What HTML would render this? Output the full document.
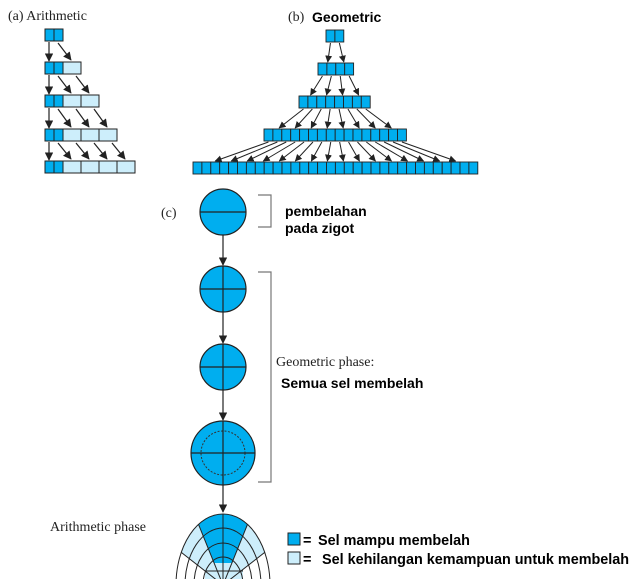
<!DOCTYPE html>
<html><head><meta charset="utf-8"><style>
html,body{margin:0;padding:0;background:#fff;overflow:hidden;width:638px;height:579px;}
svg{display:block;}
.serif{font-family:"Liberation Serif",serif;fill:#222;}
.sans{font-family:"Liberation Sans",sans-serif;font-weight:bold;fill:#000;}
</style></head><body>
<svg id="s" width="638" height="579" viewBox="0 0 638 579" xmlns="http://www.w3.org/2000/svg">
<defs>
<marker id="ah" viewBox="0 0 10 10" refX="9" refY="5" markerWidth="7" markerHeight="7" orient="auto-start-reverse"><path d="M0,0 L10,5 L0,10 z" fill="#222"/></marker>
<clipPath id="b1"><path clip-rule="evenodd" d="M176,585 A47,71 0 0 1 270,585 Z M185,585 A38,57 0 0 0 261,585 Z"/></clipPath>
<clipPath id="b2"><path clip-rule="evenodd" d="M185,585 A38,57 0 0 1 261,585 Z M194,585 A29,42 0 0 0 252,585 Z"/></clipPath>
<clipPath id="b3"><path clip-rule="evenodd" d="M194,585 A29,42 0 0 1 252,585 Z M203,585 A20,28 0 0 0 243,585 Z"/></clipPath>
<clipPath id="ball"><path clip-rule="evenodd" d="M176,585 A47,71 0 0 1 270,585 Z M203,585 A20,28 0 0 0 243,585 Z"/></clipPath>
<clipPath id="frame"><rect x="0" y="0" width="638" height="579"/></clipPath>
</defs>
<text x="8" y="20" class="serif" font-size="14">(a)  Arithmetic</text>
<text x="288" y="21" class="serif" font-size="14">(b)</text>
<text x="312" y="22" class="sans" font-size="14">Geometric</text>
<text x="161" y="217" class="serif" font-size="14">(c)</text>
<text x="285" y="216" class="sans" font-size="14">pembelahan</text>
<text x="285" y="233" class="sans" font-size="14">pada zigot</text>
<text x="276" y="366" class="serif" font-size="14">Geometric phase:</text>
<text x="281" y="388" class="sans" font-size="14">Semua sel membelah</text>
<text x="50" y="531" class="serif" font-size="14">Arithmetic phase</text>
<g id="g"></g>
<path d="M258,195 H271 V227 H258" fill="none" stroke="#777" stroke-width="1.2"/>
<path d="M258,272 H271 V482 H258" fill="none" stroke="#777" stroke-width="1.2"/>
<g stroke="#222" stroke-width="1.2" fill="#00aeef">
<circle cx="223" cy="212" r="23"/>
<circle cx="223" cy="289" r="23"/>
<circle cx="223" cy="367" r="23"/>
<circle cx="223" cy="453" r="32"/>
</g>
<circle cx="223" cy="453" r="22" fill="none" stroke="#333" stroke-dasharray="2,1.5"/>
<g stroke="#222" stroke-width="1.2">
<line x1="200" y1="212" x2="246" y2="212"/>
<line x1="200" y1="289" x2="246" y2="289"/><line x1="223" y1="266" x2="223" y2="312"/>
<line x1="200" y1="367" x2="246" y2="367"/><line x1="223" y1="344" x2="223" y2="390"/>
<line x1="191" y1="453" x2="255" y2="453"/><line x1="223" y1="421" x2="223" y2="485"/>
<line x1="223" y1="235" x2="223" y2="265" marker-end="url(#ah)"/>
<line x1="223" y1="312" x2="223" y2="343" marker-end="url(#ah)"/>
<line x1="223" y1="390" x2="223" y2="420" marker-end="url(#ah)"/>
<line x1="223" y1="485" x2="223" y2="512" marker-end="url(#ah)"/>
</g>
<g clip-path="url(#frame)"><g id="arch"></g></g>
<rect x="288" y="533" width="12" height="12" fill="#00aeef" stroke="#222"/>
<rect x="288" y="552" width="12" height="12" fill="#cdeefb" stroke="#222"/>
<text x="303" y="545" class="sans" font-size="14.4">=</text>
<text x="318" y="545" class="sans" font-size="14.4">Sel mampu membelah</text>
<text x="303" y="564" class="sans" font-size="14.4">=</text>
<text x="322" y="564" class="sans" font-size="14.4">Sel kehilangan kemampuan untuk membelah</text>
</svg>
<script>
var NS="http://www.w3.org/2000/svg",g=document.getElementById("g");
function el(t,a,p){var e=document.createElementNS(NS,t);for(var k in a)e.setAttribute(k,a[k]);(p||g).appendChild(e);return e;}
var D="#00aeef",L="#cdeefb";
var ay=[29,62,95,129,161];
for(var r=0;r<5;r++){var x=45;
 for(var c=0;c<r+2;c++){var w=c<2?9:18;el("rect",{x:x,y:ay[r],width:w,height:12,fill:c<2?D:L,stroke:"#222","stroke-width":1});x+=w;}
 if(r<4){el("line",{x1:49,y1:ay[r]+13,x2:49,y2:ay[r+1]-1,stroke:"#222","stroke-width":1.2,"marker-end":"url(#ah)"});
  for(var c=0;c<=r;c++){var sx=58+c*18;el("line",{x1:sx,y1:ay[r]+14,x2:sx+13,y2:ay[r+1]-2,stroke:"#222","stroke-width":1.2,"marker-end":"url(#ah)"});}}
}
var rows=[[326,30,2],[318,63,4],[299,96,8],[264,129,16],[193,162,32]];
var cw=8.9;
for(var r=0;r<5;r++){var R=rows[r];for(var c=0;c<R[2];c++)el("rect",{x:R[0]+c*cw,y:R[1],width:cw,height:12,fill:D,stroke:"#222","stroke-width":0.9});
 if(r<4){var N=rows[r+1],cx0=R[0]+R[2]*cw/2,cx1=N[0]+N[2]*cw/2,sc=N[2]/R[2]*0.9;
  for(var c=0;c<R[2];c++){var sx=R[0]+(c+0.5)*cw,tx=cx1+(sx-cx0)*sc;
   el("line",{x1:sx,y1:R[1]+13,x2:tx,y2:N[1]-1,stroke:"#222","stroke-width":1,"marker-end":"url(#ah)"});}}
}
var A=document.getElementById("arch");
function pt(a,R){return (223+R*Math.sin(a*Math.PI/180))+","+(585-R*Math.cos(a*Math.PI/180));}
function wedge(a1,a2,fill,clip){el("path",{d:"M223,585 L"+pt(a1,200)+" L"+pt(a2,200)+"Z",fill:fill,"clip-path":"url(#"+clip+")"},A);}
["b1","b2"].forEach(function(b){wedge(-22,22,D,b);wedge(-52,-22,L,b);wedge(22,52,L,b);});
wedge(-22,22,D,"b3");wedge(-52,-22,L,"b3");wedge(22,52,L,"b3");
el("rect",{x:205,y:563,width:38,height:16,fill:L},A);
[[47,71],[38,57],[29,42],[20,28]].forEach(function(e){el("ellipse",{cx:223,cy:585,rx:e[0],ry:e[1],fill:"none",stroke:"#222","stroke-width":1},A);});
[-52,-22,22,52].forEach(function(a){el("line",{x1:223,y1:585,x2:223+200*Math.sin(a*Math.PI/180),y2:585-200*Math.cos(a*Math.PI/180),stroke:"#222","stroke-width":1,"clip-path":"url(#ball)"},A);});
el("line",{x1:223,y1:514,x2:223,y2:579,stroke:"#222","stroke-width":1},A);
el("line",{x1:205,y1:571,x2:243,y2:571,stroke:"#222","stroke-width":1},A);
</script>
</body></html>
